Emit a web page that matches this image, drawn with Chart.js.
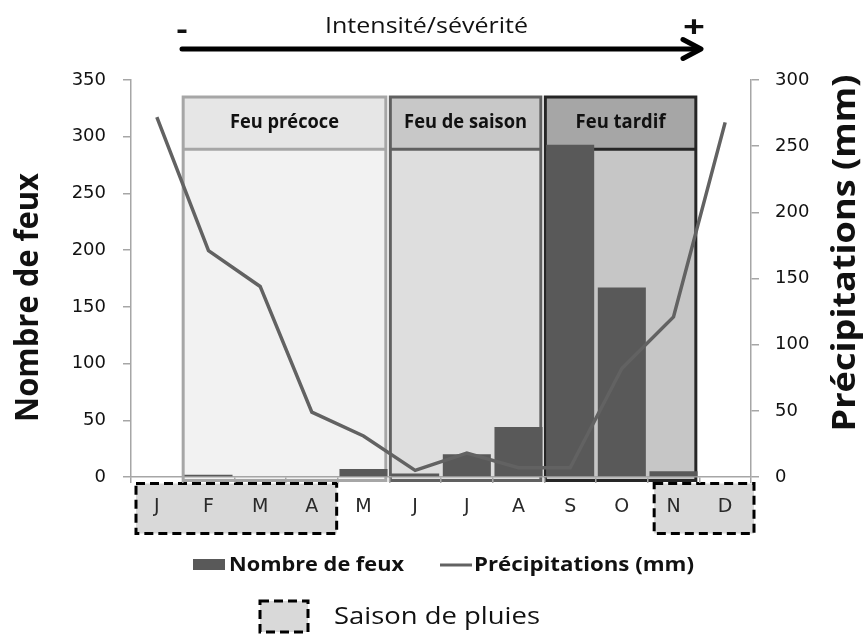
<!DOCTYPE html>
<html><head><meta charset="utf-8">
<script src="https://cdn.jsdelivr.net/npm/chart.js@4/dist/chart.umd.min.js"></script>
<style>html,body{margin:0;padding:0;background:#fff;}</style>
</head><body>
<canvas id="c" width="865" height="634"></canvas>
<script>
// ---- data ----
const months = ['J','F','M','A','M','J','J','A','S','O','N','D'];
const fireCounts = [0, 2, 0, 0, 7, 3, 20, 44, 293, 167, 5, 0];
const precipitation = [272, 171, 144, 49, 31, 5, 18, 7, 7, 82, 121, 268];
const leftTicks = [0, 50, 100, 150, 200, 250, 300, 350];
const rightTicks = [0, 50, 100, 150, 200, 250, 300];
const fireSeasonNames = ['Feu précoce', 'Feu de saison', 'Feu tardif'];
const fireSeasonStart = [1, 5, 8];
const fireSeasonEnd = [4, 7, 10];
const rainSeasonStart = [0, 10];
const rainSeasonEnd = [3, 11];

const SANS = '"Open Sans", "DejaVu Sans", sans-serif';
const seasonStyles = [
  {border:'#a6a6a6', header:'#e6e6e6', body:'#f2f2f2'},
  {border:'#606060', header:'#c8c8c8', body:'#dedede'},
  {border:'#262626', header:'#a6a6a6', body:'#c6c6c6'}
];
const rainStyle = {padL:[5,6.5], padR:[-1,3]};

function fitText(ctx, text, cx, cy, weight, size, targetW, rot, color) {
  ctx.save();
  ctx.font = weight + ' ' + size + 'px ' + SANS;
  const w = ctx.measureText(text).width;
  ctx.translate(cx, cy);
  ctx.rotate(rot || 0);
  ctx.scale(targetW / w, 1);
  ctx.textAlign = 'center';
  ctx.textBaseline = 'middle';
  ctx.fillStyle = color || '#111';
  ctx.fillText(text, 0, 0);
  ctx.restore();
}

const decor = {
  id: 'decor',
  beforeDraw(chart) {
    const {ctx, chartArea, scales} = chart;
    const x = scales.x, y = scales.y;
    const half = (x.getPixelForValue(1) - x.getPixelForValue(0)) / 2;
    const top = y.getPixelForValue(335);
    const hdr = y.getPixelForValue(289);
    const bottom = chartArea.bottom + 3.5;
    const titleW = [109, 123, 90];
    fireSeasonNames.forEach((name, i) => {
      const st = seasonStyles[i];
      const l = x.getPixelForValue(fireSeasonStart[i]) - half + (i === 0 ? 0.5 : 1);
      const r = x.getPixelForValue(fireSeasonEnd[i]) + half - 3.5;
      ctx.save();
      ctx.fillStyle = st.body;
      ctx.fillRect(l, hdr, r - l, bottom - hdr);
      ctx.fillStyle = st.header;
      ctx.fillRect(l, top, r - l, hdr - top);
      ctx.strokeStyle = st.border;
      ctx.lineWidth = 3;
      ctx.strokeRect(l, top, r - l, bottom - top);
      ctx.beginPath(); ctx.moveTo(l, hdr); ctx.lineTo(r, hdr); ctx.stroke();
      ctx.restore();
      fitText(ctx, name, (l + r) / 2, (top + hdr) / 2 - 0.5, 'bold', 19, titleW[i], 0, '#111');
    });
    // rain season boxes
    rainSeasonStart.forEach((s, i) => {
      const l = x.getPixelForValue(s) - half + rainStyle.padL[i];
      const r = x.getPixelForValue(rainSeasonEnd[i]) + half + rainStyle.padR[i];
      const t = chartArea.bottom + 6.5, b = chartArea.bottom + 56.5;
      ctx.save();
      ctx.fillStyle = '#d9d9d9';
      ctx.fillRect(l, t, r - l, b - t);
      ctx.setLineDash([9, 5]);
      ctx.lineWidth = 3;
      ctx.strokeStyle = '#000';
      ctx.strokeRect(l, t, r - l, b - t);
      ctx.restore();
    });
  },
  afterDraw(chart) {
    const {ctx} = chart;
    // axis titles
    fitText(ctx, 'Nombre de feux', 29, 297.5, 'bold', 32, 249, -Math.PI / 2, '#111');
    fitText(ctx, 'Précipitations (mm)', 846, 253, 'bold', 32, 357, -Math.PI / 2, '#111');
    // top arrow
    fitText(ctx, 'Intensité/sévérité', 426.5, 27, 'normal', 22, 203, 0, '#111');
    fitText(ctx, '-', 182, 31, 'bold', 28, 11, 0, '#111');
    fitText(ctx, '+', 694, 28, 'bold', 30, 22, 0, '#111');
    ctx.save();
    ctx.strokeStyle = '#000';
    ctx.lineWidth = 5;
    ctx.lineCap = 'round';
    ctx.lineJoin = 'round';
    ctx.beginPath(); ctx.moveTo(182, 49); ctx.lineTo(698, 49); ctx.stroke();
    ctx.beginPath(); ctx.moveTo(683, 39.5); ctx.lineTo(701, 49); ctx.lineTo(683, 58.5); ctx.stroke();
    ctx.restore();
    // legend
    const ds = chart.data.datasets;
    ctx.save();
    ctx.fillStyle = ds[0].backgroundColor;
    ctx.fillRect(193, 559, 32, 11);
    ctx.strokeStyle = ds[1].borderColor;
    ctx.lineWidth = 3;
    ctx.beginPath(); ctx.moveTo(440, 565); ctx.lineTo(472, 565); ctx.stroke();
    ctx.restore();
    fitText(ctx, ds[0].label, 316.5, 565, 'bold', 20, 175, 0, '#111');
    fitText(ctx, ds[1].label, 584, 565, 'bold', 20, 220, 0, '#111');
    ctx.save();
    ctx.fillStyle = '#d9d9d9';
    ctx.fillRect(260, 601, 48, 31);
    ctx.setLineDash([9, 5]);
    ctx.lineWidth = 3;
    ctx.strokeStyle = '#000';
    ctx.strokeRect(260, 601, 48, 31);
    ctx.restore();
    fitText(ctx, 'Saison de pluies', 437, 617, 'normal', 23, 206, 0, '#111');
  }
};

function build() {
  new Chart(document.getElementById('c'), {
    type: 'bar',
    data: {
      labels: months,
      datasets: [
        {type:'bar', label:'Nombre de feux', data: fireCounts, yAxisID:'y',
         backgroundColor:'#595959', borderWidth:0, barPercentage:0.93, categoryPercentage:1, order:2},
        {type:'line', label:'Précipitations (mm)', data: precipitation, yAxisID:'y1',
         borderColor:'#626262', borderWidth:3.5, pointRadius:0, tension:0, fill:false, order:1}
      ]
    },
    options: {
      responsive:false, animation:false, devicePixelRatio:1,
      layout:{padding:{top:80, left:0, right:0, bottom:0}},
      plugins:{legend:{display:false}, tooltip:{enabled:false}},
      scales:{
        x:{
          offset:true,
          grid:{offset:true, drawOnChartArea:false, tickLength:6, color:'#a6a6a6', lineWidth:1.5},
          border:{color:'#a6a6a6', width:1.5},
          ticks:{font:{family:'"DejaVu Sans", sans-serif', size:19}, color:'#2a2a2a', padding:13, maxRotation:0},
          afterFit(s){ s.height = 157; }
        },
        y:{
          position:'left', min:0, max:leftTicks[leftTicks.length-1],
          afterBuildTicks(s){ s.ticks = leftTicks.map(v => ({value:v})); },
          grid:{drawOnChartArea:false, tickLength:8, color:'#a6a6a6', lineWidth:1.5},
          border:{color:'#a6a6a6', width:1.5},
          ticks:{font:{family:'"DejaVu Sans", sans-serif', size:18}, color:'#111', padding:17},
          afterFit(s){ s.width = 131; }
        },
        y1:{
          position:'right', min:0, max:rightTicks[rightTicks.length-1],
          afterBuildTicks(s){ s.ticks = rightTicks.map(v => ({value:v})); },
          grid:{drawOnChartArea:false, tickLength:8, color:'#a6a6a6', lineWidth:1.5},
          border:{color:'#a6a6a6', width:1.5},
          ticks:{font:{family:'"DejaVu Sans", sans-serif', size:18}, color:'#111', padding:16},
          afterFit(s){ s.width = 114; }
        }
      }
    },
    plugins:[decor]
  });
}
const fontLoads = document.fonts && document.fonts.load
  ? Promise.all(['bold 20px "Open Sans"', '20px "Open Sans"'].map(f => document.fonts.load(f).catch(() => null)))
  : Promise.resolve();
fontLoads.then(build, build);
</script>
</body></html>
